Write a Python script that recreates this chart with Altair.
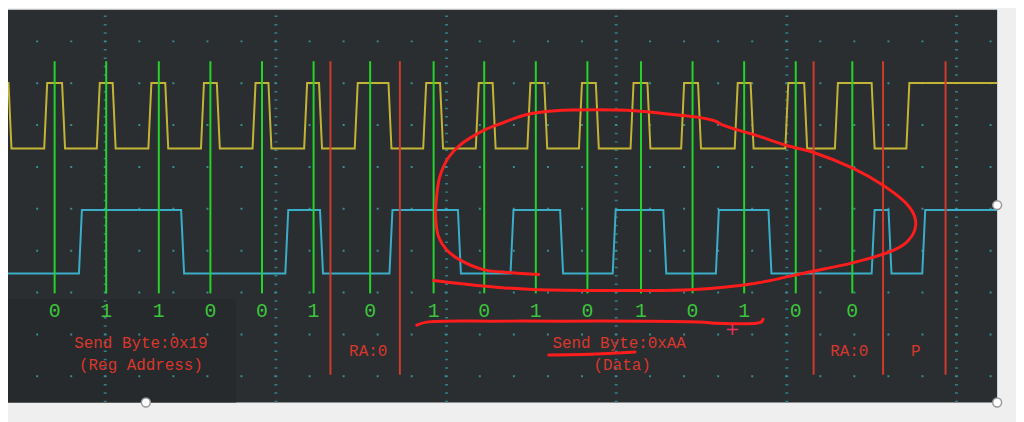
import altair as alt
import pandas as pd

# ---------------- data (screen-like units) ----------------
SCL_HIGH, SCL_LOW = 82, 148
SDA_HIGH, SDA_LOW = 210, 274

# SCL (yellow) edge times, starts high
scl_edges = [10, 46, 64, 99, 115, 151, 168, 204, 220, 256, 272, 308, 323, 359, 393,
             428, 445, 481, 498, 533, 550, 585, 602, 637, 654, 688, 705, 742, 758,
             793, 812, 843, 880, 915]
# SDA (cyan) edge times, starts low
sda_edges = [81, 184, 289, 324, 394, 463, 516, 566, 619, 670, 723, 776, 880, 897, 931]

bit_x = [55, 107, 160, 212, 264, 316, 373, 437, 488, 540, 592, 646, 698, 750, 802, 859]
bit_labels = ["0", "1", "1", "0", "0", "1", "0", "1", "0", "1", "0", "1", "0", "1", "0", "0"]
marker_x = [333, 403, 820, 890, 953]

grid_major_x = [106, 278, 450, 621, 793, 964]
grid_rows = [40, 82.2, 124.4, 166.6, 208.8, 251, 293.2, 335.4, 377.6]

label_text = ["Send Byte:0x19", "(Reg Address)", "RA:0", "Send Byte:0xAA", "(Data)", "RA:0", "P"]
label_x = [142, 142, 371, 624, 627, 856, 923]
label_y = [344, 366, 352, 344, 366, 352, 352]

# hand-drawn red annotation (loop)
loop_x = [437, 453, 503, 537, 620, 700, 760, 813, 860, 897, 913, 922, 922, 913, 890,
          860, 820, 793, 763, 730, 720, 700, 680, 640, 600, 560, 530, 507, 487, 463,
          452, 443, 440, 439, 442, 450, 463, 487, 513, 543]
loop_y = [281, 283, 288, 290, 291, 290, 284, 273, 263, 252, 243, 230, 217, 203, 185,
          168, 152, 145, 135, 125, 120, 116, 114, 110, 109, 110, 114, 122, 130, 145,
          157, 177, 197, 217, 237, 250, 260, 270, 273, 275]
under1_x = [420, 430, 500, 567, 650, 710, 720, 767, 769]
under1_y = [326, 323, 322, 322, 322, 323, 324, 323, 320]
under2_x = [553, 600, 640]
under2_y = [356, 355, 353]

handle_x = [147, 1005, 1005]
handle_y = [404, 205, 404]

X0, X1, Y0, Y1 = 8, 1005, 8, 404
BIT_TOP, BIT_BOT, MARK_BOT, BIT_TXT_Y = 60, 294, 376, 312

# ---------------- build tables ----------------
def wave(edges, start_high, hi, lo, ramp=1.5):
    lvl = hi if start_high else lo
    xs, ys = [X0], [lvl]
    for e in edges:
        new = lo if lvl == hi else hi
        xs += [e - ramp, e + ramp]
        ys += [lvl, new]
        lvl = new
    xs.append(X1)
    ys.append(lvl)
    return pd.DataFrame({"t": xs, "v": ys, "i": range(len(xs))})

scl_df = wave(scl_edges, True, SCL_HIGH, SCL_LOW)
sda_df = wave(sda_edges, False, SDA_HIGH, SDA_LOW)
bits_df = pd.DataFrame({"t": bit_x, "b": bit_labels, "v": BIT_TOP, "v2": BIT_BOT,
                        "vt": BIT_TXT_Y})
markers_df = pd.DataFrame({"t": marker_x, "v": BIT_TOP, "v2": MARK_BOT})
major_df = pd.DataFrame({"t": grid_major_x, "v": Y0, "v2": Y1})
rows_df = pd.DataFrame({"v": grid_rows, "t": X0, "t2": X1})
labels_df = pd.DataFrame({"txt": label_text, "t": label_x, "v": label_y})
loop_df = pd.DataFrame({"t": loop_x, "v": loop_y, "i": range(len(loop_x))})
u1_df = pd.DataFrame({"t": under1_x, "v": under1_y, "i": range(len(under1_x))})
u2_df = pd.DataFrame({"t": under2_x, "v": under2_y, "i": range(len(under2_x))})
handles_df = pd.DataFrame({"t": handle_x, "v": handle_y})
box_df = pd.DataFrame({"t": [X0], "t2": [238], "v": [300], "v2": [Y1]})
plus_df = pd.DataFrame({"t": [738], "v": [331], "s": ["+"]})

xs = alt.Scale(domain=[X0, X1], nice=False, zero=False)
ys = alt.Scale(domain=[Y0, Y1], nice=False, zero=False, reverse=True)
X = lambda f: alt.X(f, type="quantitative", scale=xs, axis=None)
Y = lambda f: alt.Y(f, type="quantitative", scale=ys, axis=None)

box = alt.Chart(box_df).mark_rect(color="#272a2d").encode(
    x=X("t"), x2="t2", y=Y("v"), y2="v2")

major = alt.Chart(major_df).mark_rule(
    color="#2f8088", strokeWidth=3, strokeDash=[1.5, 6.94], strokeDashOffset=2.49
).encode(x=X("t"), y=Y("v"), y2="v2")

rows = alt.Chart(rows_df).mark_rule(
    color="#3a8c92", strokeWidth=2, strokeDash=[2, 32.32], strokeDashOffset=5.92
).encode(y=Y("v"), x=X("t"), x2="t2")

scl = alt.Chart(scl_df).mark_line(color="#c4b436", strokeWidth=2).encode(
    x=X("t"), y=Y("v"), order="i:Q")
sda = alt.Chart(sda_df).mark_line(color="#3aaec8", strokeWidth=2).encode(
    x=X("t"), y=Y("v"), order="i:Q")

green = alt.Chart(bits_df).mark_rule(color="#25d42a", strokeWidth=2).encode(
    x=X("t"), y=Y("v"), y2="v2")
bits_txt = alt.Chart(bits_df).mark_text(
    color="#3cc43c", font="Liberation Mono", fontSize=20, baseline="middle", align="center"
).encode(x=X("t"), y=Y("vt"), text="b:N")

red = alt.Chart(markers_df).mark_rule(color="#d03a2c", strokeWidth=2).encode(
    x=X("t"), y=Y("v"), y2="v2")

labels = alt.Chart(labels_df).mark_text(
    color="#d9372c", font="Liberation Mono", fontSize=16, baseline="middle", align="center"
).encode(x=X("t"), y=Y("v"), text="txt:N")

ann_style = dict(color="#ff1c1c", strokeWidth=3, interpolate="catmull-rom",
                 strokeCap="round", strokeJoin="round")
loop = alt.Chart(loop_df).mark_line(**ann_style).encode(x=X("t"), y=Y("v"), order="i:Q")
u1 = alt.Chart(u1_df).mark_line(**ann_style).encode(x=X("t"), y=Y("v"), order="i:Q")
u2 = alt.Chart(u2_df).mark_line(**ann_style).encode(x=X("t"), y=Y("v"), order="i:Q")
plus = alt.Chart(plus_df).mark_text(
    color="#e8305c", fontSize=18, font="DejaVu Sans", baseline="middle", align="center"
).encode(x=X("t"), y=Y("v"), text="s:N")

handles = alt.Chart(handles_df).mark_point(
    shape="circle", filled=True, fill="white", stroke="#9a9a9a", strokeWidth=1.5,
    size=80, opacity=1
).encode(x=X("t"), y=Y("v"))

chart = alt.layer(
    box, major, rows, scl, sda, green, red, bits_txt, labels, loop, u1, u2, plus, handles
).properties(
    width=X1 - X0, height=Y1 - Y0,
    padding={"left": 0, "top": 0, "right": 19, "bottom": 18},
    autosize="none", background="#efefef"
).configure_view(fill="#2a2e31", stroke=None)

chart.save("out.html", embed_options={"renderer": "svg", "actions": False})
